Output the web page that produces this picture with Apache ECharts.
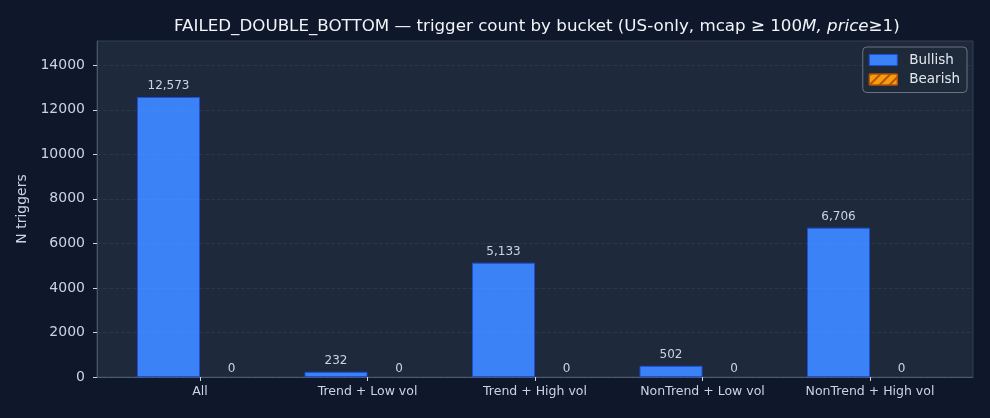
<!DOCTYPE html>
<html><head><meta charset="utf-8">
<script src="https://cdn.jsdelivr.net/npm/echarts@6/dist/echarts.min.js"></script>
<style>html,body{margin:0;padding:0;background:#0f172a}#c{width:990px;height:418px}</style>
</head><body><div id="c"></div>
<script>
const categories = ['All', 'Trend + Low vol', 'Trend + High vol', 'NonTrend + Low vol', 'NonTrend + High vol'];
const bullish = [12573, 232, 5133, 502, 6706];
const bearish = [0, 0, 0, 0, 0];
const yTicks = [0, 2000, 4000, 6000, 8000, 10000, 12000, 14000];
const yMax = 15088;

const FONT = 'DejaVu Sans';
const chart = echarts.init(document.getElementById('c'), null, {renderer: 'canvas'});
const fmt = p => Number(p.value).toLocaleString('en-US');
const hatch = {symbol: 'rect', symbolSize: 1, dashArrayX: [1, 0], dashArrayY: [2, 5], rotation: -Math.PI / 4, color: '#b45309'};

chart.setOption({
  backgroundColor: '#0f172a',
  textStyle: {fontFamily: FONT},
  animation: false,
  title: {
    text: 'FAILED_DOUBLE_BOTTOM — trigger count by bucket (US-only, mcap ≥ 100{i|M, price}≥1)',
    left: 169, top: 13,
    textStyle: {
      color: '#f1f5f9', fontSize: 16.7, fontWeight: 'normal', fontFamily: FONT,
      rich: {i: {fontStyle: 'italic', color: '#f1f5f9', fontSize: 16.7, fontFamily: FONT}}
    }
  },
  legend: {
    data: [
      {name: 'Bullish', icon: 'rect', itemStyle: {color: '#3b82f6', borderColor: '#1d4ed8', borderWidth: 1}},
      {name: 'Bearish', icon: 'rect', itemStyle: {color: '#f59e0b', borderColor: '#b45309', borderWidth: 1, decal: hatch}}
    ],
    orient: 'vertical', right: 23, top: 47,
    itemWidth: 28, itemHeight: 11, itemGap: 5.5,
    padding: [6, 7, 6, 6],
    backgroundColor: 'rgba(30,41,59,0.85)',
    borderColor: '#6b7280', borderWidth: 1, borderRadius: 4,
    textStyle: {color: '#e2e8f0', fontSize: 13.5, fontFamily: FONT, padding: [0, 0, 0, 7]}
  },
  grid: [
    {left: 97, right: 17, top: 41, bottom: 41, show: true, backgroundColor: '#1e293b', borderColor: '#334155', borderWidth: 1},
    {left: 116.25, right: 36.25, top: 41, bottom: 41}
  ],
  xAxis: [
    {gridIndex: 0, type: 'value', min: 0, max: 1, show: true,
      axisLine: {show: true, lineStyle: {color: '#475569'}}, axisTick: {show: false},
      axisLabel: {show: false}, splitLine: {show: false}},
    {gridIndex: 1, type: 'category', data: categories, boundaryGap: true,
      axisLine: {show: false},
      axisTick: {show: true, alignWithLabel: true, length: 4, lineStyle: {color: '#cbd5e1'}},
      axisLabel: {color: '#cbd5e1', fontSize: 12.5, margin: 8, fontFamily: FONT},
      splitLine: {show: false}}
  ],
  yAxis: [
    {gridIndex: 0, type: 'value', min: 0, max: yMax, interval: 2000, z: 3,
      name: 'N triggers', nameLocation: 'middle', nameGap: 68,
      nameTextStyle: {color: '#cbd5e1', fontSize: 14, fontFamily: FONT},
      axisLine: {show: true, lineStyle: {color: '#475569'}},
      axisTick: {show: true, length: 4, lineStyle: {color: '#cbd5e1'}, customValues: yTicks},
      axisLabel: {color: '#cbd5e1', fontSize: 14, margin: 12, customValues: yTicks, fontFamily: FONT,
        formatter: v => String(v)},
      splitLine: {show: true, lineStyle: {color: 'rgba(148,163,184,0.1)', type: [4, 2], width: 1}}},
    {gridIndex: 1, type: 'value', min: 0, max: yMax, show: false, splitLine: {show: false}}
  ],
  series: [
    {name: 'Bullish', type: 'bar', xAxisIndex: 1, yAxisIndex: 1, data: bullish,
      barWidth: 63, barGap: '0%',
      itemStyle: {color: '#3b82f6', borderColor: '#1d4ed8', borderWidth: 1},
      label: {show: true, position: 'top', distance: 5, color: '#cbd5e1', fontSize: 12, fontFamily: FONT, formatter: fmt}},
    {name: 'Bearish', type: 'bar', xAxisIndex: 1, yAxisIndex: 1, data: bearish,
      barWidth: 63, barGap: '0%',
      itemStyle: {color: '#f59e0b', borderWidth: 0, decal: hatch},
      label: {show: true, position: 'top', distance: 2, color: '#cbd5e1', fontSize: 12, fontFamily: FONT, formatter: fmt}}
  ]
});
</script>
</body></html>
